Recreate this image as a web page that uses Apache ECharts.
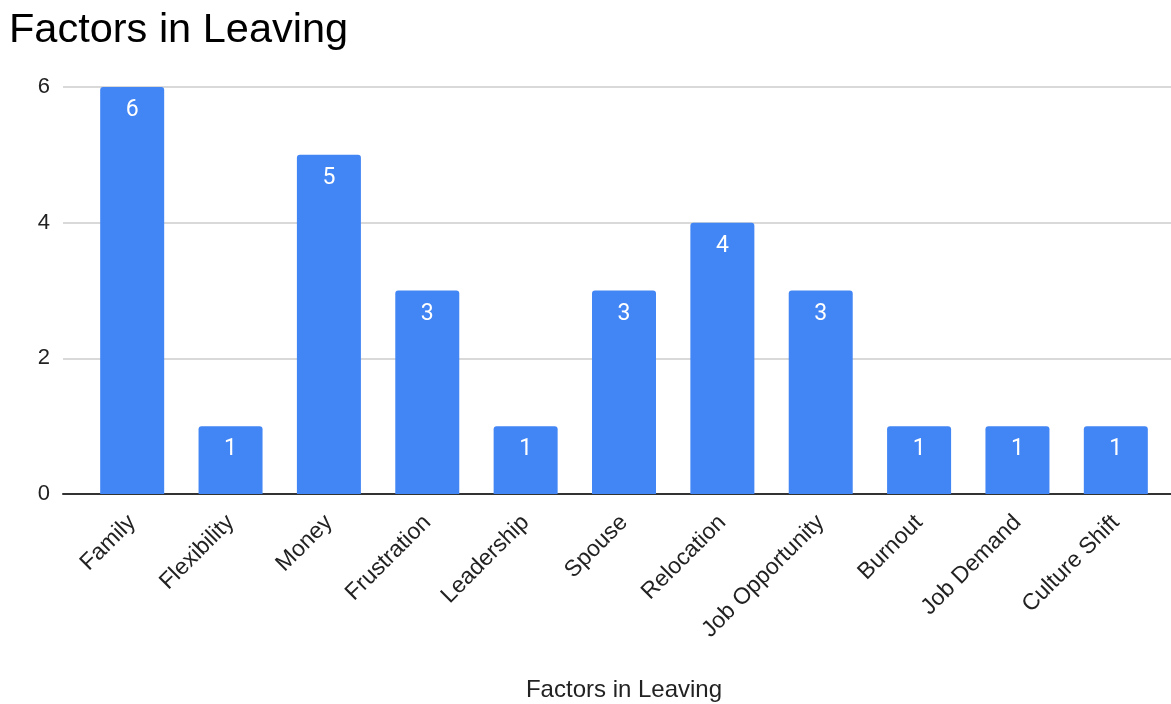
<!DOCTYPE html>
<html>
<head>
<meta charset="utf-8">
<title>Factors in Leaving</title>
<script src="https://cdn.jsdelivr.net/npm/echarts@6/dist/echarts.min.js"></script>
<style>
  html, body { margin: 0; padding: 0; background: #fff; }
  #chart { width: 1171px; height: 704px; }
</style>
</head>
<body>
<div id="chart"></div>
<script>
// Reasons given for leaving, with the number of responses for each
const categories = ['Family', 'Flexibility', 'Money', 'Frustration', 'Leadership', 'Spouse',
  'Relocation', 'Job Opportunity', 'Burnout', 'Job Demand', 'Culture Shift'];
const counts = [6, 1, 5, 3, 1, 3, 4, 3, 1, 1, 1];
const yMin = 0;
const yMax = 6;
const yStep = 2;

const textFont = '"Liberation Sans", Arial, sans-serif';
const chart = echarts.init(document.getElementById('chart'));

chart.setOption({
  animation: false,
  backgroundColor: '#ffffff',
  title: {
    text: 'Factors in Leaving',
    left: 4,
    top: 5,
    textStyle: { fontFamily: textFont, fontSize: 41.5, fontWeight: 'normal', color: '#000' }
  },
  grid: [
    // full-width frame: gridlines, value labels and baseline
    { left: 63, right: 0, top: 87, bottom: 210, outerBoundsMode: 'none' },
    // inner band for the bars
    { left: 83, width: 1082, top: 87, bottom: 210, outerBoundsMode: 'none' }
  ],
  xAxis: [
    {
      type: 'value', gridIndex: 0, min: 0, max: 1,
      axisLine: { show: true, lineStyle: { color: '#333', width: 2 } },
      axisTick: { show: false }, axisLabel: { show: false }, splitLine: { show: false }
    },
    {
      type: 'category', gridIndex: 1, data: categories,
      axisLine: { show: false }, axisTick: { show: false },
      axisLabel: {
        rotate: 45, interval: 0, margin: 25,
        fontFamily: textFont, fontSize: 23, color: '#222'
      },
      name: 'Factors in Leaving',
      nameLocation: 'middle',
      nameGap: 184,
      nameTextStyle: { fontFamily: textFont, fontSize: 24, color: '#222' }
    }
  ],
  yAxis: [
    {
      type: 'value', gridIndex: 0, min: yMin, max: yMax, interval: yStep,
      axisLine: { show: false }, axisTick: { show: false },
      axisLabel: { margin: 13, fontFamily: textFont, fontSize: 22, color: '#222' },
      splitLine: { show: true, lineStyle: { color: '#cccccc', width: 1.5 } }
    },
    { type: 'value', gridIndex: 1, min: yMin, max: yMax, interval: yStep, show: false }
  ],
  series: [{
    type: 'bar',
    xAxisIndex: 1,
    yAxisIndex: 1,
    data: counts,
    barWidth: 64,
    z: 1,
    itemStyle: { color: '#4285F4', borderRadius: [3, 3, 0, 0] },
    label: {
      show: true,
      position: 'insideTop',
      distance: 12,
      fontFamily: 'Roboto, sans-serif',
      fontSize: 23,
      color: '#ffffff'
    }
  }]
});
</script>
</body>
</html>
